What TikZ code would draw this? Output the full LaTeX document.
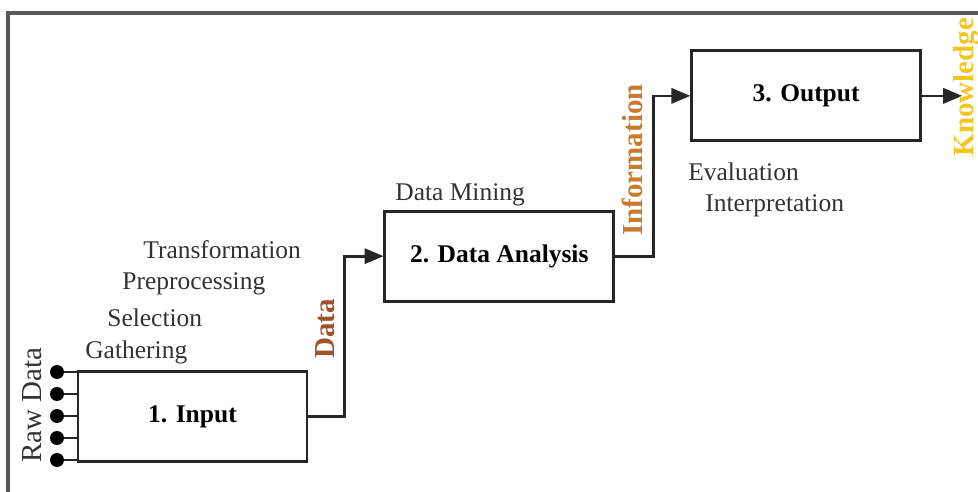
\documentclass[tikz,border=0pt]{standalone}
\usepackage{fontspec}
\setmainfont{Liberation Serif}
\usetikzlibrary{arrows,shapes,positioning}
\tikzset{link/.style={draw=black!85, line width=1.5pt, -triangle 45}}
\definecolor{datacol}{HTML}{A0522D}
\definecolor{infocol}{HTML}{C97B2B}
\definecolor{knowcol}{HTML}{F2C61F}
\newcommand{\stepname}[1]{\textbf{#1}}

\begin{document}
\begin{tikzpicture}[
    stage/.style = {draw=black!85, line width=1.6pt, minimum width=4.58cm,
                    minimum height=1.8cm, font=\fontsize{14.5}{17}\selectfont},
    task/.style  = {inner sep=0pt, anchor=west, text=black!80,
                    font=\fontsize{14.5}{17}\selectfont},
    side/.style  = {inner sep=0pt, rotate=90, font=\fontsize{16.5}{19}\selectfont\bfseries},
    dot/.style   = {circle, fill=black, inner sep=0pt, minimum size=0.28cm}]
    \useasboundingbox (0,0) rectangle (19.56,9.84);
    \clip (0,0) rectangle (19.56,9.84);
    % frame
    \draw[black!65, line width=2pt] (0.16,-0.5) -- (0.16,9.58) -- (20,9.58);
    % stages
    \node[stage] (in) at (3.85,1.51) {\stepname{1. Input}};
    \node[stage] (an) [above right = 1.35cm and 1.5cm of in] {\stepname{2. Data Analysis}};
    \node[stage] (out) [above right = 1.35cm and 1.5cm of an] {\stepname{3. Output}};
    % raw data inputs
    \foreach \i/\y in {1/2.40, 2/1.96, 3/1.52, 4/1.08, 5/0.64} {
        \node[dot] (rd\i) at (1.14,\y) {};
        \draw[black!85, line width=1.2pt] (rd\i) -- (rd\i -| in.west);
    }
    \node[side, text=black!80, font=\fontsize{16.5}{19}\selectfont] (raw) at (0.64,1.74) {Raw Data};
    % tasks
    \node[task] (t1) at (1.70,2.80) {Gathering};
    \node[task] (t2) at (2.14,3.48) {Selection};
    \node[task] (t3) at (2.44,4.16) {Preprocessing};
    \node[task] (t4) at (2.86,4.84) {Transformation};
    \node[task] (t5) at (7.90,5.94) {Data Mining};
    \node[task] (t6) at (13.76,6.40) {Evaluation};
    \node[task] (t7) at (14.10,5.72) {Interpretation};
    % flow
    \path[link] (in.east) -- ++(0.72,0) |- (an.west);
    \path[link] (an.east) -- ++(0.76,0) |- (out.west);
    \node[coordinate, right = 0.8cm of out.east] (kn) {};
    \path[link] (out.east) -- (kn);
    \node[side, text=datacol] (data) at (6.50,3.26) {Data};
    \node[side, text=infocol] (info) at (12.64,6.64) {Information};
    \node[side, text=knowcol] (know) at (19.34,8.10) {Knowledge};
\end{tikzpicture}
\end{document}
